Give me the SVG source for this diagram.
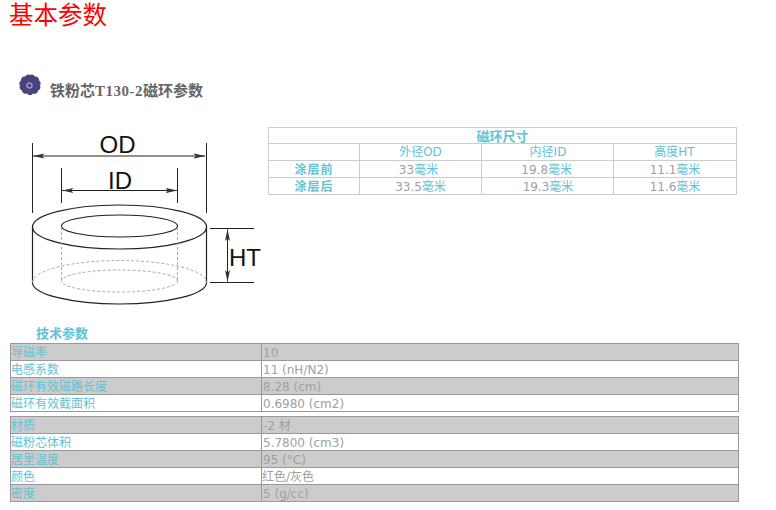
<svg xmlns="http://www.w3.org/2000/svg" width="776" height="510" viewBox="0 0 776 510">
<style>
text{font-family:"DejaVu Sans","Noto Sans CJK SC",sans-serif;font-size:12px;fill:#a0a0a0}
.t,.t tspan.t{fill:#5fc3d3}
tspan.t{fill:#5fc3d3}
.th{font-family:"Noto Sans CJK SC",sans-serif;font-weight:700;fill:#5fc3d3;font-size:13px}
.ts{font-size:12px;letter-spacing:1px}
.c{text-anchor:middle}
.dim{font-family:"Liberation Sans",sans-serif;font-size:24px;fill:#111}
.l1{stroke:#ccc;stroke-width:1;fill:none}
.l2{stroke:#999;stroke-width:1;fill:none}
.band{fill:#ccc}
.draw{stroke:#222;stroke-width:1;fill:none}
.ring{stroke:#222;stroke-width:1.2;fill:none}
.dash{stroke:#aaa;stroke-width:1;fill:none;stroke-dasharray:3 2}
</style>
<defs>
<marker id="ah" viewBox="0 0 12 6" refX="11.5" refY="3" markerWidth="12" markerHeight="6" markerUnits="userSpaceOnUse" orient="auto-start-reverse">
<path d="M0 0.5L12 3L0 5.5L2.5 3Z" fill="#333"/>
</marker>
</defs>
<rect width="776" height="510" fill="#fff"/>
<text x="9" y="24" style="font-family:'Liberation Serif','Noto Sans CJK SC',serif;font-size:24.5px;fill:#f00">基本参数</text>
<g id="icon">
<path d="M30 75a3.500 3.500 0 0 1 5 1.500a3.500 3.500 0 0 1 4 4a3.500 3.500 0 0 1 1 5a3.500 3.500 0 0 1-2 5a3.500 3.500 0 0 1-5 3a3.500 3.500 0 0 1-6 0a3.500 3.500 0 0 1-5-3a3.500 3.500 0 0 1-2-5a3.500 3.500 0 0 1 1-5a3.500 3.500 0 0 1 4-4a3.500 3.500 0 0 1 5-1.500Z" fill="#48437f"/>
<circle cx="29.500" cy="85.500" r="2.500" fill="none" stroke="#9a96b8" stroke-width="1.500"/>
</g>
<text x="50" y="96" style="font-family:'Liberation Serif','Noto Sans CJK SC',serif;font-size:15px;font-weight:700;fill:#666">铁粉芯<tspan letter-spacing="0.5">T130-2</tspan>磁环参数</text>
<g id="ring-drawing">
<path class="draw" d="M32.500 143V213M206.500 143V213M61.500 168V203M177.500 168V203M210 228.500H254M210 282.500H254"/>
<path class="draw" d="M33 156H205" marker-start="url(#ah)" marker-end="url(#ah)"/>
<path class="draw" d="M62 190.500H177" marker-start="url(#ah)" marker-end="url(#ah)"/>
<path class="draw" d="M227.500 229.500V281.500" marker-start="url(#ah)" marker-end="url(#ah)"/>
<ellipse class="ring" cx="119.500" cy="227" rx="87" ry="22"/>
<ellipse class="ring" cx="119.500" cy="226" rx="58" ry="11"/>
<path class="ring" d="M32.500 227V282.500A87 21.500 0 0 0 206.500 282.500V227"/>
<path class="dash" d="M61.500 227V281M177.500 227V281"/>
<path class="dash" d="M32.500 282.500A87 22 0 0 1 206.500 282.500"/>
<ellipse class="dash" cx="119.500" cy="281" rx="58" ry="11"/>
<text class="dim" x="99.500" y="153">OD</text>
<text class="dim" x="108" y="189">ID</text>
<text class="dim" x="229" y="266">HT</text>
</g>
<g id="size-table">
<rect class="l1" x="268.500" y="127.500" width="468" height="67"/>
<path class="l1" d="M268.500 143.500H736.500M268.500 160.500H736.500M268.500 177.500H736.500M359.500 143.500V194.500M481.500 143.500V194.500M613.500 143.500V194.500"/>
<text class="th c" x="502.500" y="141">磁环尺寸</text>
<text class="t c" x="420.500" y="156">外径OD</text>
<text class="t c" x="548" y="156">内径ID</text>
<text class="t c" x="674.500" y="156">高度HT</text>
<text class="th ts c" x="314" y="174">涂层前</text>
<text class="th ts c" x="314" y="191">涂层后</text>
<text class="c" x="418.500" y="174">33<tspan class="t">毫米</tspan></text>
<text class="c" x="546.700" y="174">19.8<tspan class="t">毫米</tspan></text>
<text class="c" x="675" y="174">11.1<tspan class="t">毫米</tspan></text>
<text class="c" x="420.500" y="191">33.5<tspan class="t">毫米</tspan></text>
<text class="c" x="548" y="191">19.3<tspan class="t">毫米</tspan></text>
<text class="c" x="675" y="191">11.6<tspan class="t">毫米</tspan></text>
</g>
<g id="tech-table">
<text class="th" x="36" y="338">技术参数</text>
<rect class="band" x="11" y="344" width="727" height="16"/>
<rect class="band" x="11" y="378" width="727" height="16"/>
<rect class="band" x="11" y="417" width="727" height="16"/>
<rect class="band" x="11" y="451" width="727" height="16"/>
<rect class="band" x="11" y="485" width="727" height="16"/>
<rect class="l2" x="10.500" y="343.500" width="728" height="68"/>
<path class="l2" d="M10.500 360.500H738.500M10.500 377.500H738.500M10.500 394.500H738.500M261.500 343.500V411.500"/>
<rect class="l2" x="10.500" y="416.500" width="728" height="85"/>
<path class="l2" d="M10.500 433.500H738.500M10.500 450.500H738.500M10.500 467.500H738.500M10.500 484.500H738.500M261.500 416.500V501.500"/>
<text class="t" x="11" y="357">导磁率</text><text x="263" y="357">10</text>
<text class="t" x="11" y="374">电感系数</text><text x="263" y="374">11 (nH/N2)</text>
<text class="t" x="11" y="391">磁环有效磁路长度</text><text x="263" y="391">8.28 (cm)</text>
<text class="t" x="11" y="408">磁环有效截面积</text><text x="263" y="408">0.6980 (cm2)</text>
<text class="t" x="11" y="430">材质</text><text x="263" y="430">-2 材</text>
<text class="t" x="11" y="447">磁粉芯体积</text><text x="263" y="447">5.7800 (cm3)</text>
<text class="t" x="11" y="464">居里温度</text><text x="263" y="464">95 (°C)</text>
<text class="t" x="11" y="481">颜色</text><text x="262" y="481">红色/灰色</text>
<text class="t" x="11" y="498">密度</text><text x="263" y="498">5 (g/cc)</text>
</g>
</svg>
